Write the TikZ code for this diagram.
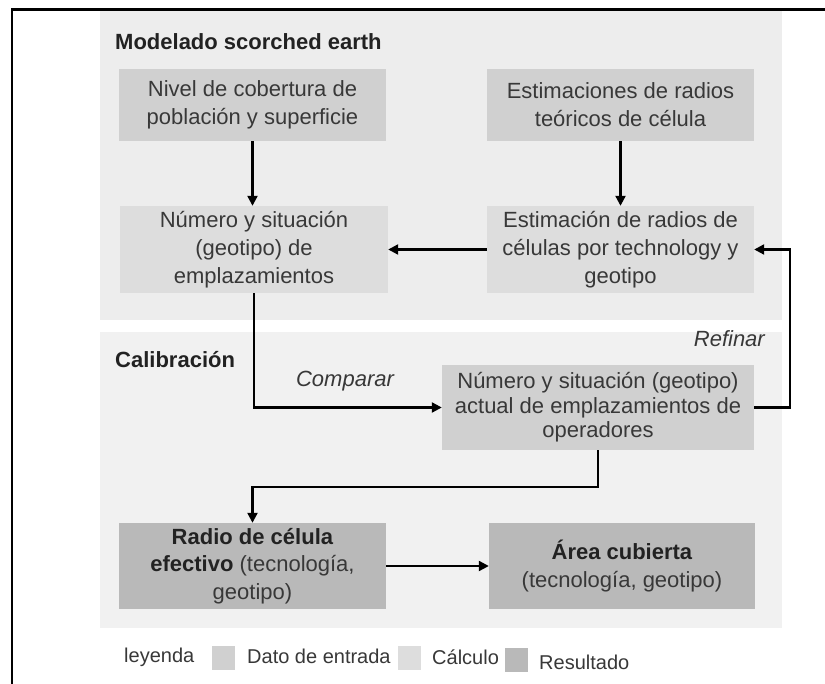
\documentclass[tikz,border=0pt]{standalone}
\usepackage{fontspec}
\setmainfont{Liberation Sans}
\usetikzlibrary{arrows.meta}
\definecolor{panelA}{HTML}{EDEDED}
\definecolor{panelB}{HTML}{F1F1F1}
\definecolor{inbox}{HTML}{D0D0D0}
\definecolor{calcbox}{HTML}{DDDDDD}
\definecolor{resbox}{HTML}{B9B9B9}
\definecolor{txt}{HTML}{383838}
\definecolor{ttl}{HTML}{222222}
\tikzset{
  box/.style={inner sep=0pt, align=center, text=txt, font=\fontsize{22}{28}\selectfont},
  inbx/.style={box, fill=inbox},
  calcbx/.style={box, fill=calcbox},
  resbx/.style={box, fill=resbox},
  arr/.style={line width=2.2pt, black, -{Triangle[length=10pt,width=10pt]}},
  ttlstyle/.style={inner sep=0pt, anchor=west, text=ttl, font=\fontsize{22}{26}\selectfont\bfseries},
  lbl/.style={inner sep=0pt, text=txt, font=\fontsize{22}{26}\selectfont\itshape},
  legtxt/.style={inner sep=0pt, anchor=west, text=txt, font=\fontsize{20}{24}\selectfont},
  legsq/.style={inner sep=0pt, minimum width=23pt, minimum height=24pt}
}
\begin{document}
\begin{tikzpicture}[x=1pt,y=-1pt]
\useasboundingbox (0,0) rectangle (825,684);
\fill[white] (0,0) rectangle (825,684);
% frame
\draw[line width=2.6pt] (12,684) -- (12,9.5) -- (825,9.5);
% panels
\fill[panelA] (100,11) rectangle (782,320);
\fill[panelB] (100,332) rectangle (782,628);
% titles
\node[ttlstyle] (t1) at (115,42) {Modelado scorched earth};
\node[ttlstyle] (t2) at (115,360) {Calibración};
% boxes
\node[inbx, minimum width=267pt, minimum height=72pt] (A) at (252.5,105) {Nivel de cobertura de\\población y superficie};
\node[inbx, minimum width=267pt, minimum height=72pt] (B) at (620.5,105) {Estimaciones de radios\\teóricos de célula};
\node[calcbx, minimum width=268pt, minimum height=87pt] (C) at (254,249.5) {Número y situación\\(geotipo) de\\emplazamientos};
\node[calcbx, minimum width=267pt, minimum height=87pt] (D) at (620.5,249.5) {Estimación de radios de\\células por technology y\\geotipo};
\node[inbx, minimum width=312pt, minimum height=85pt, font=\fontsize{22}{24.5}\selectfont] (E) at (598,407.5) {Número y situación (geotipo)\\actual de emplazamientos de\\operadores};
\node[resbx, minimum width=267pt, minimum height=86pt, font=\fontsize{22}{27.5}\selectfont] (F) at (252.5,566) {\textcolor{ttl}{\textbf{Radio de célula}}\\\textcolor{ttl}{\textbf{efectivo}} (tecnología,\\geotipo)};
\node[resbx, minimum width=266pt, minimum height=86pt] (G) at (622,566) {\textcolor{ttl}{\textbf{Área cubierta}}\\(tecnología, geotipo)};
% labels
\node[lbl] (cmp) at (345,381) {Comparar};
\node[lbl, anchor=east] (ref) at (765,339) {Refinar};
% connectors
\coordinate (rf) at (790,0);
\coordinate (mid) at (0,487);
\draw[arr] (A.south) -- (A.south |- C.north);
\draw[arr] (B.south) -- (B.south |- D.north);
\draw[arr] (D.west) -- (C.east |- D.west);
\draw[arr] (C.south) |- (E.west);
\draw[arr] (E.east) -- (E.east -| rf) -- (rf |- D.east) -- (D.east);
\draw[arr] (E.south) -- (E.south |- mid) -| (F.north);
\draw[arr] (F.east) -- (G.west |- F.east);
% legend
\node[legtxt] (l0) at (124,657) {leyenda};
\node[legsq, fill=inbox] (s1) at (223.5,658) {};
\node[legtxt] (l1) at (247,656) {Dato de entrada};
\node[legsq, fill=calcbox] (s2) at (409,658) {};
\node[legtxt] (l2) at (432,657) {Cálculo};
\node[legsq, fill=resbox] (s3) at (516.5,660) {};
\node[legtxt] (l3) at (539,662) {Resultado};
\end{tikzpicture}
\end{document}
